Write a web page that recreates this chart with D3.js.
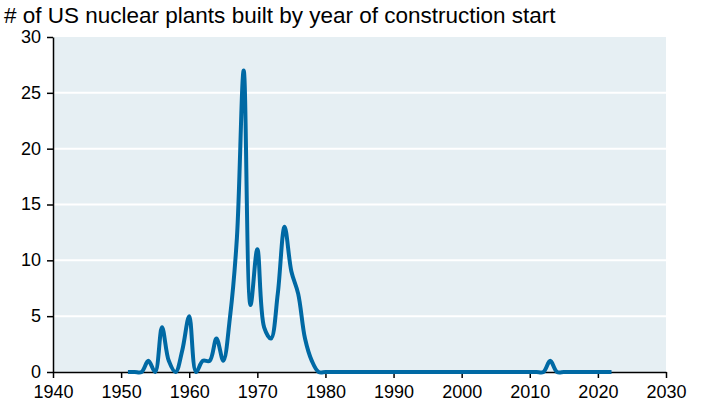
<!DOCTYPE html>
<html>
<head>
<meta charset="utf-8">
<script src="https://cdn.jsdelivr.net/npm/d3@7"></script>
<style>
  body { margin: 0; background: #fff; }
  text { font-family: "Liberation Sans", Arial, sans-serif; fill: #000; }
</style>
</head>
<body>
<svg id="chart" width="706" height="406"></svg>
<script>
// construction starts per year
var years = [1951, 1952, 1953, 1954, 1955, 1956, 1957, 1958, 1959, 1960,
             1961, 1962, 1963, 1964, 1965, 1966, 1967, 1968, 1969, 1970,
             1971, 1972, 1973, 1974, 1975, 1976, 1977, 1978, 1979, 1980,
             1981, 1982, 1983, 1984, 1985, 1986, 1987, 1988, 1989, 1990,
             1991, 1992, 1993, 1994, 1995, 1996, 1997, 1998, 1999, 2000,
             2001, 2002, 2003, 2004, 2005, 2006, 2007, 2008, 2009, 2010,
             2011, 2012, 2013, 2014, 2015, 2016, 2017, 2018, 2019, 2020,
             2021, 2022];
var plants = [0, 0, 0, 1, 0, 4, 1, 0, 2, 5,
              0, 1, 1, 3, 1, 5, 12, 27, 6, 11,
              4, 3, 7, 13, 9, 7, 3, 1, 0, 0,
              0, 0, 0, 0, 0, 0, 0, 0, 0, 0,
              0, 0, 0, 0, 0, 0, 0, 0, 0, 0,
              0, 0, 0, 0, 0, 0, 0, 0, 0, 0,
              0, 0, 1, 0, 0, 0, 0, 0, 0, 0,
              0, 0];
var xTicks = [1940, 1950, 1960, 1970, 1980, 1990, 2000, 2010, 2020, 2030];
var yTicks = [0, 5, 10, 15, 20, 25, 30];
var title = "# of US nuclear plants built by year of construction start";

var svg = d3.select("#chart"),
    margin = {top: 37, right: 40, bottom: 34, left: 53},
    width = +svg.attr("width") - margin.left - margin.right,
    height = +svg.attr("height") - margin.top - margin.bottom;

var x = d3.scaleLinear().domain([1940, 2030]).range([0, width]),
    y = d3.scaleLinear().domain([0, 30]).range([height, 0]);

svg.append("text")
    .attr("x", 4)
    .attr("y", 23)
    .style("font-size", "22.5px")
    .text(title);

var g = svg.append("g").attr("transform", "translate(" + margin.left + "," + margin.top + ")");

g.append("rect")
    .attr("width", width)
    .attr("height", height)
    .attr("fill", "#e6eff3");

// white gridlines
g.selectAll(".grid")
    .data(yTicks.filter(function(d) { return d > 0 && d < 30; }))
    .enter().append("line")
    .attr("x1", 0).attr("x2", width)
    .attr("y1", function(d) { return y(d); })
    .attr("y2", function(d) { return y(d); })
    .attr("stroke", "#fff")
    .attr("stroke-width", 2);

var xAxis = g.append("g")
    .attr("transform", "translate(0," + height + ")")
    .call(d3.axisBottom(x).tickValues(xTicks).tickFormat(d3.format("d")).tickSize(6).tickSizeOuter(0));

var yAxis = g.append("g")
    .call(d3.axisLeft(y).tickValues(yTicks).tickSize(6).tickSizeOuter(0));

[xAxis, yAxis].forEach(function(a) {
    a.select(".domain").attr("stroke", "#000").attr("stroke-width", 1.5);
    a.selectAll(".tick line").attr("stroke", "#000").attr("stroke-width", 1.5);
    a.selectAll(".tick text").style("font-size", "18px").style("font-family", "Liberation Sans, Arial, sans-serif");
});
xAxis.selectAll(".tick text").attr("dy", "0.95em").attr("y", 9);
yAxis.selectAll(".tick text").attr("x", -12).attr("dy", "0.3em");

var line = d3.line()
    .curve(d3.curveCatmullRom.alpha(0.5))
    .x(function(d, i) { return x(years[i]); })
    .y(function(d) { return y(d); });

g.append("path")
    .datum(plants)
    .attr("fill", "none")
    .attr("stroke", "#0069a4")
    .attr("stroke-width", 4)
    .attr("stroke-linejoin", "round")
    .attr("d", line);
</script>
</body>
</html>
